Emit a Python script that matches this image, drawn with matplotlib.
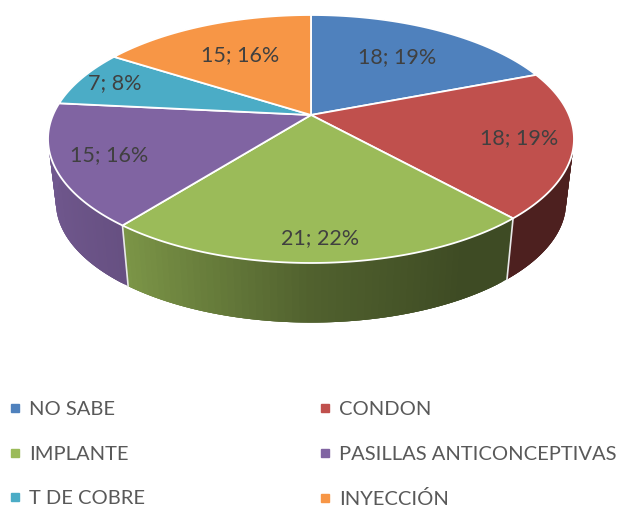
import numpy as np
import matplotlib
matplotlib.use("Agg")
import matplotlib.pyplot as plt
from matplotlib.collections import PolyCollection
from matplotlib.lines import Line2D
from matplotlib.patches import Polygon

categories = ["NO SABE", "CONDON", "IMPLANTE", "PASILLAS ANTICONCEPTIVAS", "T DE COBRE", "INYECCIÓN"]
values = [18, 18, 21, 15, 7, 15]
percents = [19, 19, 22, 16, 8, 16]
colors = ["#4F81BD", "#C0504D", "#9BBB59", "#8064A2", "#4BACC6", "#F79646"]

# Perspective model of the Excel 3-D pie (pixel space)
CX, HUB_Y, A, B, K = 311.0, 115.0, 258.0, 119.35, 0.1935
BASE_SCALE, BASE_HUB_Y = 0.97, 179.0
LABEL_RADII = [0.65, 0.80, 0.86, 0.80, 0.85, 0.63]
FONT = "Lato"
LABEL_SIZE = 15.5
LEGEND_SIZE = 14.5


def project(ang, r=1.0, scale=1.0, hub=HUB_Y):
    x, y = r * np.sin(ang), r * np.cos(ang)
    d = 1 + K * y
    return CX + scale * A * x / d, hub - scale * B * y / d


def shade(color, ang):
    f = np.interp(np.sin(ang), [-1, -0.62, 0, 0.5, 1], [0.88, 0.8, 0.52, 0.4, 0.4])
    return tuple(np.array(matplotlib.colors.to_rgb(color)) * f)


fig = plt.figure(figsize=(6.18, 5.08), dpi=100)
ax = fig.add_axes([0, 0, 1, 1])
ax.set_xlim(0, 618)
ax.set_ylim(508, 0)
ax.axis("off")

edges = np.radians(np.concatenate([[0], np.cumsum(values)]) / np.sum(values) * 360)

# Side walls: overlapping strips painted in order, so that no seams show
for i, color in enumerate(colors):
    t = np.linspace(edges[i], edges[i + 1], 61)
    step = t[1] - t[0]
    polys, cols = [], []
    for j, (a0, a1) in enumerate(zip(t[:-1], t[1:])):
        a2 = min(a1 + 2 * step, edges[i + 1])
        arc = np.linspace(a0, a2, 5)
        top = np.column_stack(project(arc))
        low = np.column_stack(project(arc, scale=BASE_SCALE, hub=BASE_HUB_Y))
        polys.append(np.vstack([top, low[::-1]]))
        cols.append(shade(color, (a0 + a1) / 2))
    ax.add_collection(PolyCollection(polys, facecolors=cols, edgecolors="none", linewidths=0, zorder=1))

# White seams on the wall
for a in edges[:-1]:
    p0, p1 = project(a), project(a, scale=BASE_SCALE, hub=BASE_HUB_Y)
    ax.plot([p0[0], p1[0]], [p0[1], p1[1]], color="#E8E8E8", lw=1.2, zorder=2)

# Top surface
for i, color in enumerate(colors):
    t = np.linspace(edges[i], edges[i + 1], 120)
    u, v = project(t)
    pts = np.column_stack([np.r_[CX, u], np.r_[HUB_Y, v]])
    ax.add_patch(Polygon(pts, closed=True, facecolor=color, edgecolor="white", lw=1.3, joinstyle="round", zorder=3))

# Data labels
for i in range(len(values)):
    mid = (edges[i] + edges[i + 1]) / 2
    u, v = project(mid, r=LABEL_RADII[i])
    ax.text(u, v, f"{values[i]}; {percents[i]}%", ha="center", va="center",
            color="#404040", fontsize=LABEL_SIZE, family=FONT, zorder=4)

# Legend
order = [0, 2, 4, 1, 3, 5]
handles = [Line2D([], [], ls="none", marker="s", ms=5.5, mfc=colors[j], mec=colors[j], label=categories[j]) for j in order]
ax.legend(handles=handles, ncols=2, frameon=False, loc="upper left", bbox_to_anchor=(8 / 618, 1 - 401 / 508),
          bbox_transform=ax.transAxes, borderpad=0, borderaxespad=0, handlelength=0.7, handletextpad=0.35,
          columnspacing=8.6, labelspacing=1.37, labelcolor="#595959",
          prop={"family": FONT, "size": LEGEND_SIZE})

fig.savefig("out.png", dpi=100)
